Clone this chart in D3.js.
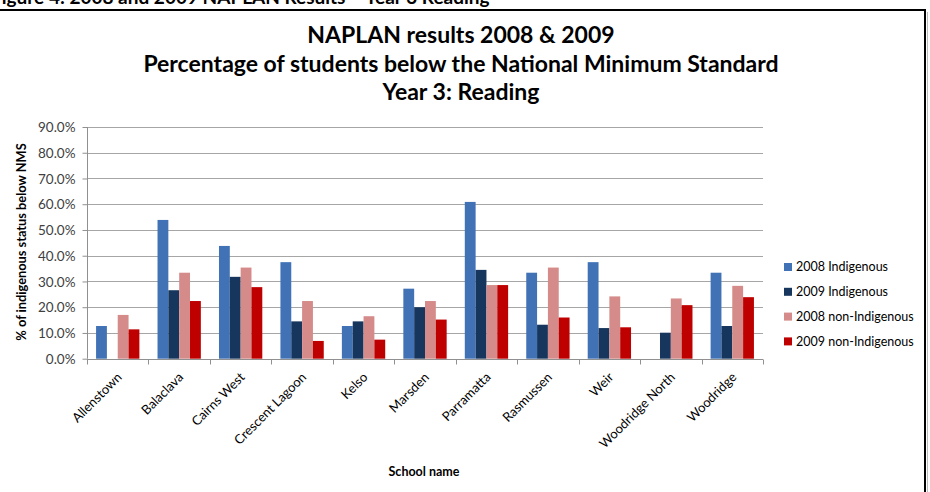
<!DOCTYPE html>
<html><head><meta charset="utf-8">
<script src="https://cdn.jsdelivr.net/npm/d3@7"></script>
<style>
html,body{margin:0;padding:0;background:#fff;overflow:hidden}
svg{display:block}
text{font-family:Lato,"Open Sans",sans-serif}
</style></head>
<body>
<svg id="chart" width="930" height="492"></svg>
<script>
const schools = ["Allenstown","Balaclava","Cairns West","Crescent Lagoon","Kelso","Marsden","Parramatta","Rasmussen","Weir","Woodridge North","Woodridge"];
const seriesNames = ["2008 Indigenous","2009 Indigenous","2008 non-Indigenous","2009 non-Indigenous"];
const ind2008 = [12.7, 53.9, 43.8, 37.5, 12.7, 27.2, 60.9, 33.4, 37.5, null, 33.4];
const ind2009 = [null, 26.6, 31.8, 14.5, 14.5, 20.0, 34.5, 13.2, 11.9, 10.1, 12.7];
const non2008 = [17.0, 33.4, 35.4, 22.4, 16.5, 22.4, 28.6, 35.4, 24.2, 23.4, 28.3];
const non2009 = [11.4, 22.4, 27.8, 6.9, 7.4, 15.2, 28.6, 16.0, 12.2, 20.8, 23.9];
const yTicks = [0,10,20,30,40,50,60,70,80,90];
const colors = ["#4172B6","#17365D","#D58B89","#BE0000"];
const seriesValues = [ind2008, ind2009, non2008, non2009];

const svg = d3.select("#chart");

// caption (cut off at top, as in the source page)
svg.append("text").attr("x",-9).attr("y",4)
  .attr("font-size",19).attr("font-weight","bold").attr("fill","#000")
  .text("Figure 4: 2008 and 2009 NAPLAN Results \u2013 Year 3 Reading");

// frame
svg.append("path").attr("d","M0,10 H925 V492").attr("fill","none")
  .attr("stroke","#000").attr("stroke-width",2);
svg.append("line").attr("x1",927.5).attr("x2",927.5).attr("y1",12).attr("y2",492)
  .attr("stroke","#bbb").attr("stroke-width",1);

// titles
const titleLines = ["NAPLAN results 2008 & 2009","Percentage of students below the National Minimum Standard","Year 3: Reading"];
svg.append("g").selectAll("text").data(titleLines).join("text")
  .attr("x",461).attr("y",(d,i)=>43+i*28.7)
  .attr("text-anchor","middle").attr("font-size",23).attr("font-weight","bold").attr("fill","#000")
  .text(d=>d);

const x0 = d3.scaleBand().domain(schools).range([87,763]).paddingInner(0).paddingOuter(0);
const x1 = d3.scaleBand().domain(seriesNames).range([0,x0.bandwidth()]).paddingInner(0).paddingOuter(0.837);
const y = d3.scaleLinear().domain([0,90]).range([358.7,127]);

// gridlines
svg.append("g").selectAll("line").data(yTicks.slice(1)).join("line")
  .attr("x1",87).attr("x2",763).attr("y1",d=>Math.round(y(d))+0.5).attr("y2",d=>Math.round(y(d))+0.5)
  .attr("stroke","#a6a6a6").attr("stroke-width",1);

// bars
const rows = [];
seriesNames.forEach((s,si)=>{
  schools.forEach((sc,ci)=>{
    const v = seriesValues[si][ci];
    if(v!=null) rows.push({s,si,sc,v});
  });
});
svg.append("g").selectAll("rect").data(rows).join("rect")
  .attr("x",d=>x0(d.sc)+x1(d.s))
  .attr("width",x1.bandwidth())
  .attr("y",d=>y(d.v))
  .attr("height",d=>y(0)-y(d.v))
  .attr("fill",d=>colors[d.si]);

// y axis
const yAxis = d3.axisLeft(y).tickValues(yTicks).tickSize(5).tickFormat(d=>d3.format(".1f")(d)+"%");
const gy = svg.append("g").attr("transform","translate(87.5,0)").call(yAxis);
gy.attr("font-size",null).attr("font-family",null);
gy.select(".domain").attr("stroke","#909090").attr("d","M0,"+y(90)+"V"+y(0));
gy.selectAll(".tick line").attr("stroke","#909090");
gy.selectAll(".tick text").attr("font-size",13.5).attr("fill","#404040").attr("x",-12).attr("dy","0.35em");

// x axis
const gx = svg.append("g").attr("transform","translate(0,"+(Math.round(y(0))+0.5)+")");
gx.append("line").attr("x1",87).attr("x2",763).attr("stroke","#909090");
const tickPos = schools.map(s=>x0(s)).concat([763]);
gx.selectAll(".tk").data(tickPos).join("line").attr("class","tk")
  .attr("x1",d=>Math.round(d)+0.5).attr("x2",d=>Math.round(d)+0.5).attr("y1",0).attr("y2",5)
  .attr("stroke","#909090");
svg.append("g").selectAll("text").data(schools).join("text")
  .attr("transform",d=>"translate("+(x0(d)+x0.bandwidth()/2+5)+",378) rotate(-45)")
  .attr("text-anchor","end").attr("font-size",13).attr("fill","#000")
  .text(d=>d);

// axis titles
svg.append("text").attr("transform","translate(26,242) rotate(-90)")
  .attr("text-anchor","middle").attr("font-size",12.8).attr("font-weight","bold").attr("fill","#000")
  .text("% of indigenous status below NMS");
svg.append("text").attr("x",424).attr("y",476)
  .attr("text-anchor","middle").attr("font-size",12.5).attr("font-weight","bold").attr("fill","#000")
  .text("School name");

// legend
const lg = svg.append("g");
const items = lg.selectAll("g").data(seriesNames).join("g")
  .attr("transform",(d,i)=>"translate(784,"+(267+i*24.8)+")");
items.append("rect").attr("x",0).attr("y",-4).attr("width",8).attr("height",8).attr("fill",(d,i)=>colors[i]);
items.append("text").attr("x",12).attr("y",0).attr("dy","0.35em").attr("font-size",12.5).attr("fill","#000").text(d=>d);
</script>
</body></html>
